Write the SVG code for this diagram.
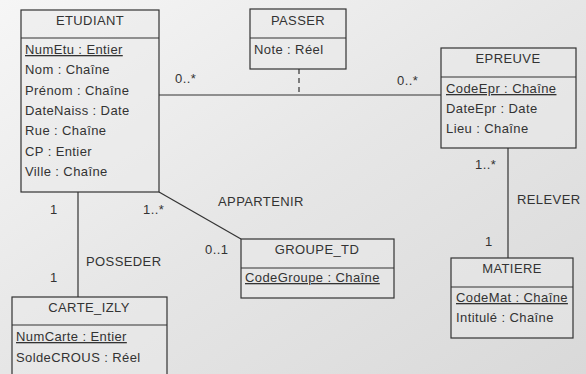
<svg xmlns="http://www.w3.org/2000/svg" width="586" height="374" viewBox="0 0 586 374">
<defs>
<linearGradient id="bg" x1="0" y1="0" x2="1" y2="1">
<stop offset="0" stop-color="#f6f6f6"/>
<stop offset="0.5" stop-color="#e6e6e6"/>
<stop offset="1" stop-color="#d9d9d9"/>
</linearGradient>
</defs>
<style>
.box{fill:#eaeaea;fill-opacity:0.5;stroke:#333;stroke-width:1.2}
.sep{stroke:#333;stroke-width:1.2}
.t{font-family:"Liberation Sans",Arial,sans-serif;font-size:13px;letter-spacing:0.4px;fill:#333}
.c{text-anchor:middle}
.u{text-decoration:underline}
.ln{stroke:#333;stroke-width:1.2;fill:none}
.dash{stroke:#333;stroke-width:1.2;stroke-dasharray:5 4;fill:none}
</style>
<rect width="586" height="374" fill="url(#bg)"/>
<g id="connectors">
<line class="ln" x1="159" y1="95" x2="441" y2="95"/>
<line class="dash" x1="299" y1="69" x2="299" y2="95"/>
<line class="ln" x1="508" y1="148" x2="508" y2="258"/>
<line class="ln" x1="78" y1="192" x2="78" y2="297"/>
<line class="ln" x1="159" y1="192" x2="241" y2="239"/>
<text class="t" x="175" y="83">0..*</text>
<text class="t" x="397" y="85">0..*</text>
<text class="t" x="475" y="169">1..*</text>
<text class="t" x="485" y="246">1</text>
<text class="t" x="517" y="204">RELEVER</text>
<text class="t" x="50" y="214">1</text>
<text class="t" x="50" y="282">1</text>
<text class="t" x="86" y="266">POSSEDER</text>
<text class="t" x="143" y="214">1..*</text>
<text class="t" x="205" y="254">0..1</text>
<text class="t" x="218" y="206">APPARTENIR</text>
</g>
<g id="ETUDIANT">
<rect class="box" x="21" y="10" width="138" height="182"/>
<line class="sep" x1="21" y1="38" x2="159" y2="38"/>
<text class="t c" x="90" y="25">ETUDIANT</text>
<text class="t u" x="25" y="54">NumEtu : Entier</text>
<text class="t" x="25" y="74">Nom : Chaîne</text>
<text class="t" x="25" y="95">Prénom : Chaîne</text>
<text class="t" x="25" y="115">DateNaiss : Date</text>
<text class="t" x="25" y="135">Rue : Chaîne</text>
<text class="t" x="25" y="156">CP : Entier</text>
<text class="t" x="25" y="176">Ville : Chaîne</text>
</g>
<g id="PASSER">
<rect class="box" x="250" y="9" width="96" height="60"/>
<line class="sep" x1="250" y1="38" x2="346" y2="38"/>
<text class="t c" x="298" y="25">PASSER</text>
<text class="t" x="254" y="54">Note : Réel</text>
</g>
<g id="EPREUVE">
<rect class="box" x="441" y="48" width="135" height="100"/>
<line class="sep" x1="441" y1="77" x2="576" y2="77"/>
<text class="t c" x="508" y="63">EPREUVE</text>
<text class="t u" x="446" y="93">CodeEpr : Chaîne</text>
<text class="t" x="446" y="113">DateEpr : Date</text>
<text class="t" x="446" y="133">Lieu : Chaîne</text>
</g>
<g id="MATIERE">
<rect class="box" x="451" y="258" width="122" height="80"/>
<line class="sep" x1="451" y1="287" x2="573" y2="287"/>
<text class="t c" x="512" y="273">MATIERE</text>
<text class="t u" x="456" y="302">CodeMat : Chaîne</text>
<text class="t" x="456" y="322">Intitulé : Chaîne</text>
</g>
<g id="GROUPE_TD">
<rect class="box" x="241" y="239" width="153" height="59"/>
<line class="sep" x1="241" y1="268" x2="394" y2="268"/>
<text class="t c" x="317" y="254">GROUPE_TD</text>
<text class="t u" x="245" y="282">CodeGroupe : Chaîne</text>
</g>
<g id="CARTE_IZLY">
<rect class="box" x="12" y="297" width="155" height="85"/>
<line class="sep" x1="12" y1="325" x2="167" y2="325"/>
<text class="t c" x="89" y="312">CARTE_IZLY</text>
<text class="t u" x="16" y="341">NumCarte : Entier</text>
<text class="t" x="16" y="362">SoldeCROUS : Réel</text>
</g>
</svg>
